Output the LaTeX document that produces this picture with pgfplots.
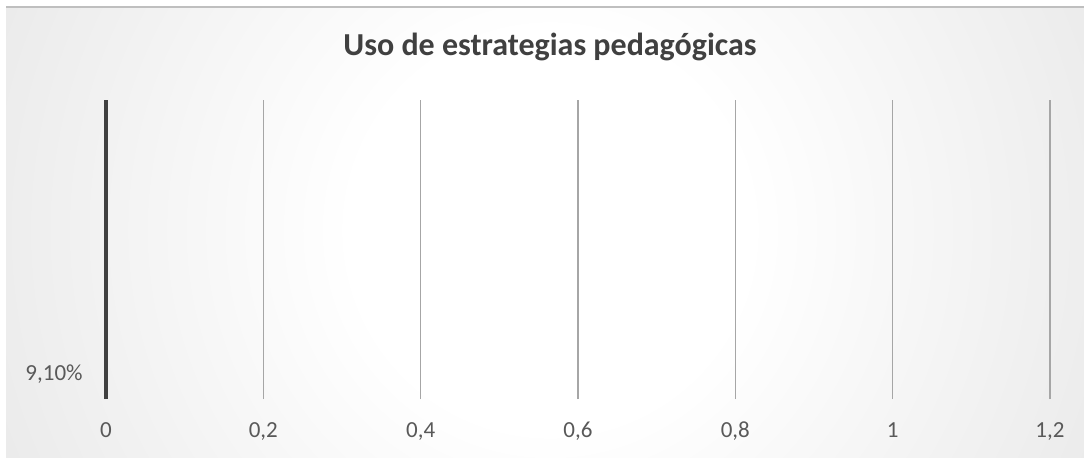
\documentclass[border=0pt]{standalone}
\usepackage{pgfplots}
\pgfplotsset{compat=1.18}
\usepackage{fontspec}
\setmainfont{Carlito}
\definecolor{txt}{HTML}{595959}
\definecolor{ttl}{HTML}{404040}
\definecolor{grd}{HTML}{A6A6A6}
\pgfdeclareradialshading{bg}{\pgfpointorigin}{color(0bp)=(white); color(8bp)=(white); color(23bp)=(black!7.5); color(44bp)=(black!19.6); color(50bp)=(black!23)}
\begin{document}
\begin{tikzpicture}
\useasboundingbox (0,0) rectangle (542pt,228.5pt);
\fill[white] (0,0) rectangle (542pt,228.5pt);
\begin{scope}
\clip (3pt,0) rectangle (542pt,225pt);
\shade[shading=bg] (275pt,113.5pt) circle (310pt);
\end{scope}
\draw[black!25, line width=0.6pt] (3pt,225pt) -- (542pt,225pt);
\node[font=\fontsize{16}{18}\selectfont\bfseries, text=ttl] at (275pt,205pt) {Uso de estrategias pedagógicas};
\begin{axis}[
  at={(53pt,29pt)}, anchor=south west,
  scale only axis, width=472pt, height=149.5pt,
  xmin=0, xmax=1.2, ymin=0, ymax=6,
  xtick={0,0.2,0.4,0.6,0.8,1,1.2},
  xticklabels={0,{0,2},{0,4},{0,6},{0,8},1,{1,2}},
  ytick={0.5}, yticklabels={9{,}10\%},
  major tick length=0pt,
  axis line style={draw=none},
  xmajorgrids, grid style={grd, line width=0.6pt},
  tick label style={font=\fontsize{11.5}{13}\selectfont, text=txt},
  xticklabel style={anchor=base, yshift=-19pt},
  yticklabel style={anchor=east, inner sep=0pt, xshift=-11.5pt},
  clip=false,
]
\addplot[line width=1.7pt, color=ttl] coordinates {(0,0) (0,6)};
\end{axis}
\end{tikzpicture}
\end{document}
